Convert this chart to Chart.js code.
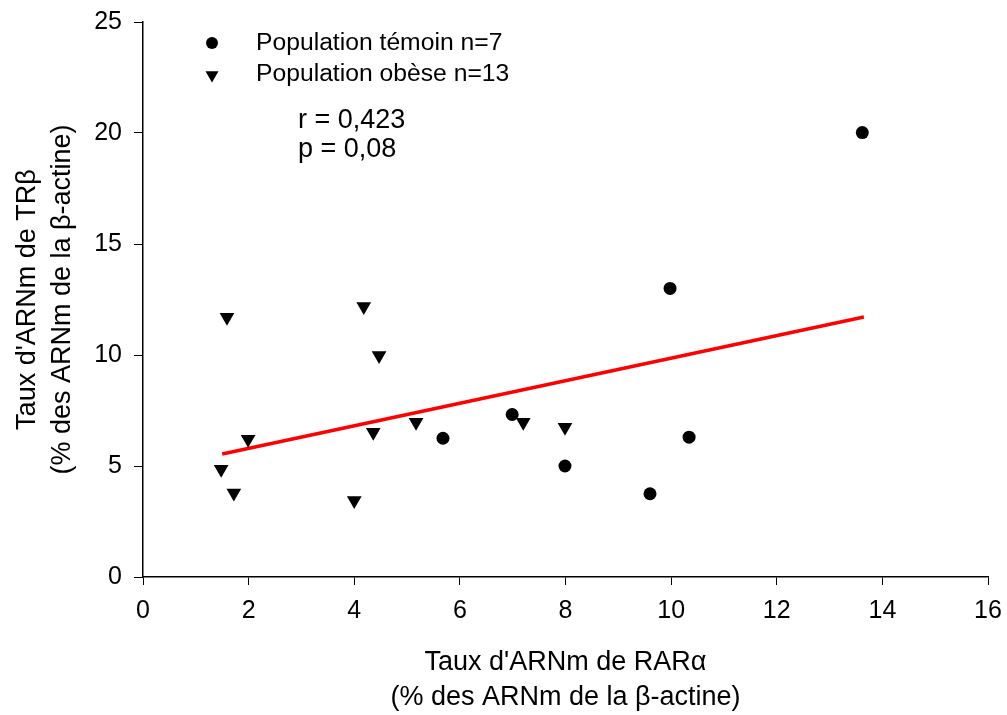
<!DOCTYPE html>
<html>
<head>
<meta charset="utf-8">
<script src="https://cdn.jsdelivr.net/npm/chart.js@4/dist/chart.umd.min.js"></script>
<style>
  html, body { margin: 0; padding: 0; background: #fff; }
  #wrap { width: 1007px; height: 715px; }
</style>
</head>
<body>
<div id="wrap"><canvas id="myChart" width="1007" height="715"></canvas></div>
<script>
(() => {
    'use strict';

    // points
    const temoinX = [5.68, 6.99, 7.99, 9.60, 9.98, 10.34, 13.62];
    const temoinY = [6.25, 7.32, 5.00, 3.75, 13.00, 6.30, 20.02];

    const obeseX = [1.48, 1.59, 1.72, 1.99, 4.00, 4.18, 4.36, 4.47, 5.17, 7.20, 7.99];
    const obeseY = [4.85, 11.70, 3.78, 6.20, 3.45, 12.18, 6.52, 9.98, 6.97, 6.97, 6.75];

    // droite de régression
    const fitX = [1.5, 13.65];
    const fitY = [5.54, 11.71];

    const xTicks = [0, 2, 4, 6, 8, 10, 12, 14, 16];
    const yTicks = [0, 5, 10, 15, 20, 25];

    const legendLabels = ['Population témoin n=7', 'Population obèse n=13'];
    const statLines = ['r = 0,423', 'p = 0,08'];

    const FONT = "'Liberation Sans', Arial, sans-serif";
    const toXY = (xs, ys) => xs.map((x, i) => ({ x: x, y: ys[i] }));

    // légende et statistiques dans la zone du graphique
    const textPlugin = {
        id: 'texts',
        afterDraw(chart) {
            const c = chart.ctx;
            c.save();
            c.fillStyle = '#000';
            c.textBaseline = 'middle';
            c.textAlign = 'left';
            const styles = [
                { pointStyle: 'circle', radius: 6, rotation: 0 },
                { pointStyle: 'triangle', radius: 7.5, rotation: 180 }
            ];
            legendLabels.forEach((txt, i) => {
                const y = 43 + i * 31;
                if (Chart.helpers && Chart.helpers.drawPoint) {
                    c.fillStyle = '#000';
                    c.strokeStyle = '#000';
                    c.lineWidth = 1;
                    Chart.helpers.drawPoint(c, styles[i], 212, i ? y + 1 : y);
                }
                c.fillStyle = '#000';
                c.font = '24.7px ' + FONT;
                c.fillText(txt, 256, y);
            });
            c.font = '27px ' + FONT;
            statLines.forEach((txt, i) => {
                c.fillText(txt, 298, 121 + i * 29);
            });
            c.restore();
        }
    };

    const ctx = document.getElementById('myChart');
    new Chart(ctx, {
        type: 'scatter',
        data: {
            datasets: [
                {
                    label: legendLabels[0],
                    data: toXY(temoinX, temoinY),
                    pointStyle: 'circle',
                    pointRadius: 6.5,
                    backgroundColor: '#000',
                    borderColor: '#000',
                    borderWidth: 0
                },
                {
                    label: legendLabels[1],
                    data: toXY(obeseX, obeseY),
                    pointStyle: 'triangle',
                    pointRotation: 180,
                    pointRadius: 8.5,
                    backgroundColor: '#000',
                    borderColor: '#000',
                    borderWidth: 0
                },
                {
                    type: 'line',
                    label: 'fit',
                    data: toXY(fitX, fitY),
                    borderColor: '#ff0000',
                    borderWidth: 3.5,
                    pointRadius: 0,
                    fill: false,
                    tension: 0
                }
            ]
        },
        options: {
            responsive: false,
            animation: false,
            layout: { padding: { top: 22, right: 19, left: 0, bottom: 0 } },
            plugins: {
                legend: { display: false },
                tooltip: { enabled: false }
            },
            scales: {
                x: {
                    type: 'linear',
                    min: 0,
                    max: 16,
                    afterBuildTicks: s => { s.ticks = xTicks.map(v => ({ value: v })); },
                    afterFit: s => { s.height = 138; s.paddingLeft = 0; s.paddingRight = 0; },
                    grid: { drawOnChartArea: false, tickLength: 8, color: '#000', tickColor: '#000' },
                    border: { color: '#000', width: 1.5 },
                    ticks: { color: '#000', font: { family: FONT, size: 25 }, padding: 11, maxRotation: 0 },
                    title: {
                        display: true,
                        text: ["Taux d'ARNm de RARα", '(% des ARNm de la β-actine)'],
                        color: '#000',
                        font: { family: FONT, size: 27, lineHeight: 1.3 },
                        padding: { top: 10, bottom: 0 }
                    }
                },
                y: {
                    type: 'linear',
                    min: 0,
                    max: 25,
                    afterBuildTicks: s => { s.ticks = yTicks.map(v => ({ value: v })); },
                    afterFit: s => { s.width = 143; s.paddingTop = 0; s.paddingBottom = 0; },
                    grid: { drawOnChartArea: false, tickLength: 9, color: '#000', tickColor: '#000' },
                    border: { color: '#000', width: 1.5 },
                    ticks: { color: '#000', font: { family: FONT, size: 25 }, padding: 12 },
                    title: {
                        display: true,
                        text: ["Taux d'ARNm de TRβ", '(% des ARNm de la β-actine)'],
                        color: '#000',
                        font: { family: FONT, size: 27, lineHeight: 1.3 },
                        padding: { top: 10, bottom: 0 }
                    }
                }
            }
        },
        plugins: [textPlugin]
    });
})();
</script>
</body>
</html>
